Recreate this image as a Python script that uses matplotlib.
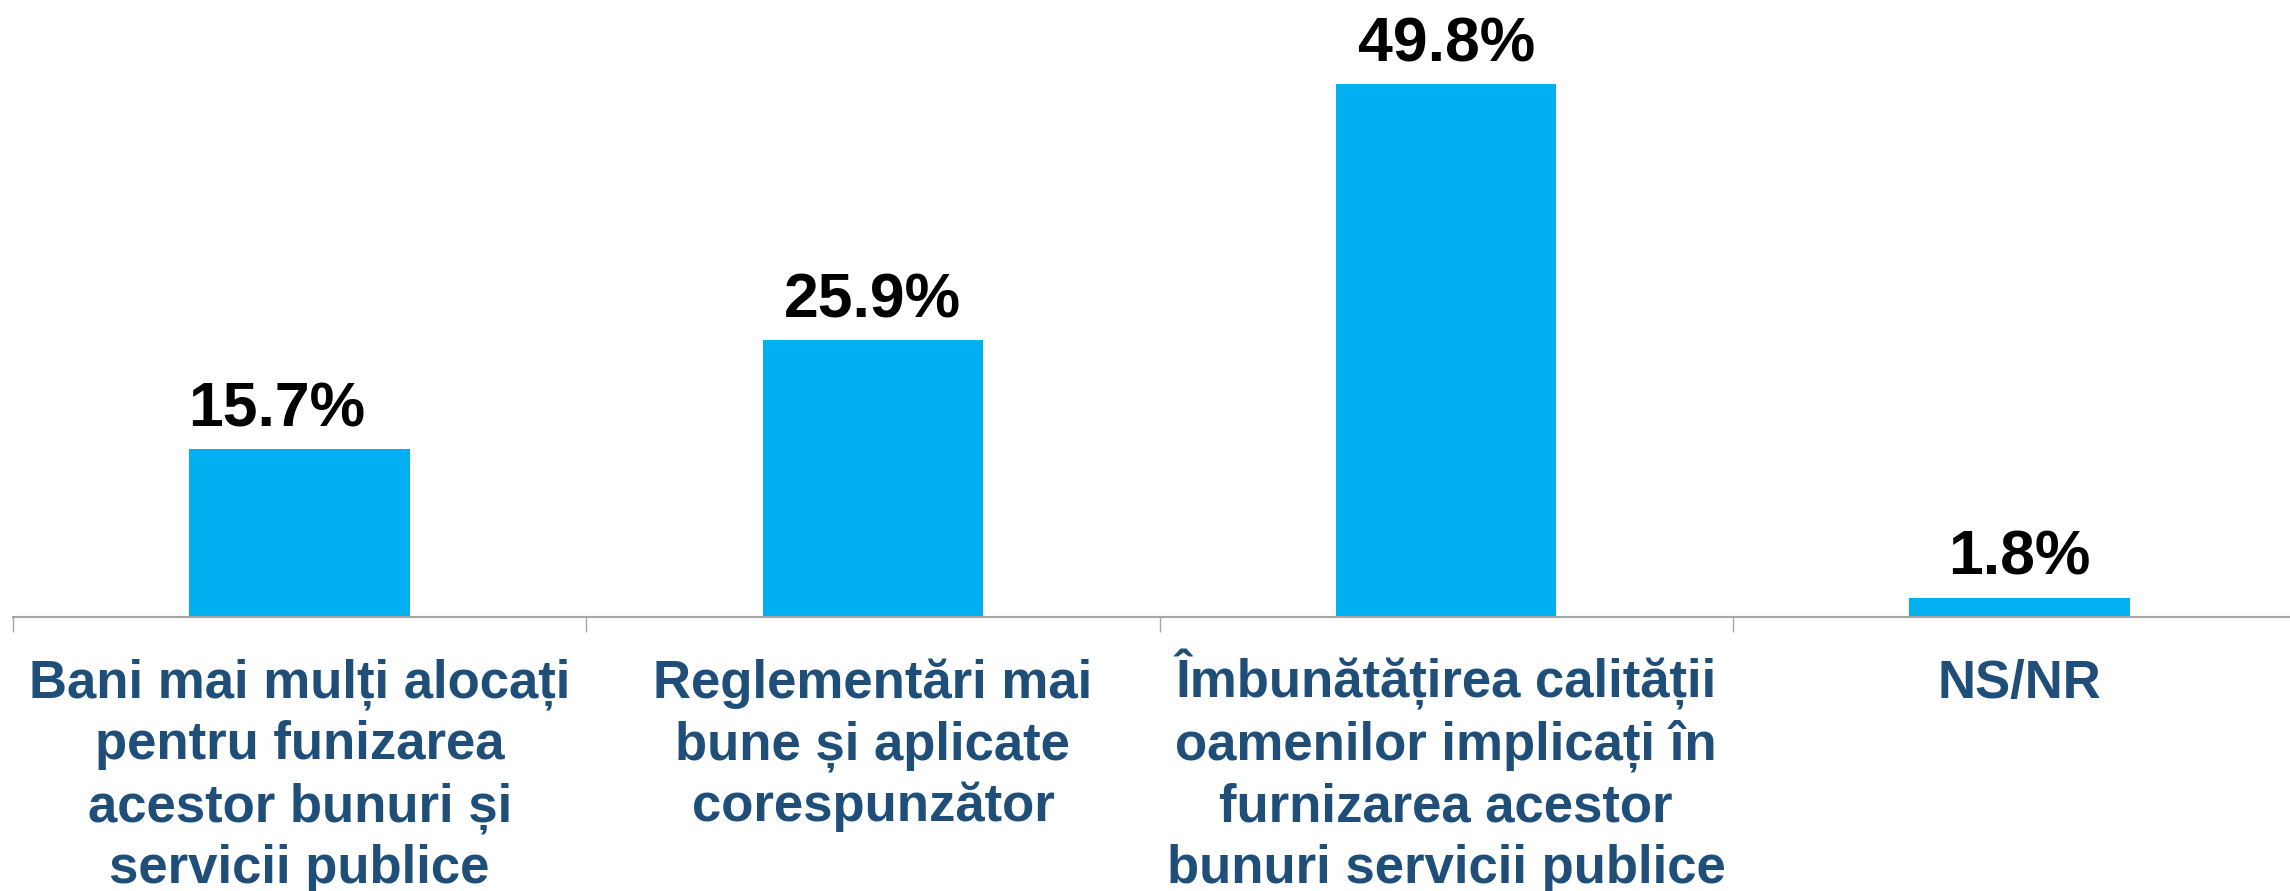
import matplotlib.pyplot as plt
from matplotlib.transforms import blended_transform_factory, offset_copy

categories = [
    'Bani mai mulți alocați\npentru funizarea\nacestor bunuri și\nservicii publice',
    'Reglementări mai\nbune și aplicate\ncorespunzător',
    'Îmbunătățirea calității\noamenilor implicați în\nfurnizarea acestor\nbunuri servicii publice',
    'NS/NR',
]
values = [15.7, 25.9, 49.8, 1.8]
value_labels = ['15.7%', '25.9%', '49.8%', '1.8%']

bar_color = '#00B0F0'
label_color = '#1F4E79'
# the first value label sits a bit left of its bar in the original
label_dx = [-16.5, 0, 0, 0]

fig = plt.figure(figsize=(22.9, 8.91), dpi=100)
ax = fig.add_axes([13 / 2290, 274 / 891, 2293 / 2290, 617 / 891])

x = list(range(len(categories)))
ax.bar(x, values, width=0.385, color=bar_color, zorder=2)

ax.set_xlim(-0.5, len(categories) - 0.5)
ax.set_ylim(0, 57.7)

for s in ['top', 'right', 'left']:
    ax.spines[s].set_visible(False)
ax.spines['bottom'].set_color('#A6A6A6')
ax.spines['bottom'].set_linewidth(1.5)
ax.set_yticks([])
ax.set_xticks([i - 0.5 for i in x])
ax.set_xticklabels([])
ax.tick_params(axis='x', length=11, width=1, color='#A6A6A6')

for xi, v, lab, dx in zip(x, values, value_labels, label_dx):
    ax.annotate(lab, (xi, v), xytext=(dx, 16.5), textcoords='offset points',
                ha='center', va='baseline', fontsize=45, fontweight='bold',
                family='Liberation Sans', color='black')

# category labels, one line at a time so the baselines sit exactly
base = blended_transform_factory(ax.transData, ax.transAxes)
for xi, cat in zip(x, categories):
    for k, line in enumerate(cat.split('\n')):
        dy = -(81 + 61.5 * k) * 72 / 100
        tr = offset_copy(base, fig=fig, x=0, y=dy, units='points')
        ax.text(xi, 0, line, transform=tr, ha='center', va='baseline',
                fontsize=38, fontweight='bold',
                family=['Liberation Sans', 'DejaVu Sans'], color=label_color)

fig.savefig('out.png', dpi=100)
